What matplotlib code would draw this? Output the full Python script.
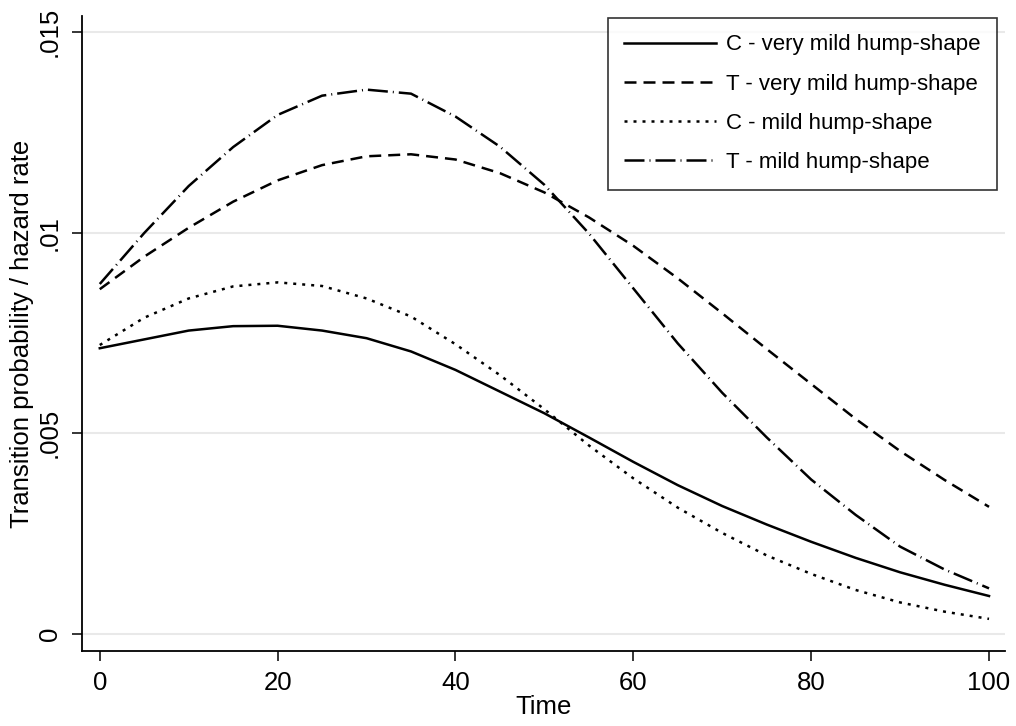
import matplotlib
matplotlib.use("Agg")
import matplotlib.pyplot as plt

plt.rcParams['font.family'] = ['Liberation Sans', 'DejaVu Sans']

##### Data #####
time = [0, 5, 10, 15, 20, 25, 30, 35, 40, 45, 50,
        55, 60, 65, 70, 75, 80, 85, 90, 95, 100]

# C - very mild hump-shape (solid)
c_very_mild = [0.00712, 0.00734, 0.00756, 0.00767, 0.00768, 0.00756, 0.00737,
               0.00704, 0.00658, 0.00604, 0.00550, 0.00490, 0.00429, 0.00371,
               0.00319, 0.00273, 0.00230, 0.00190, 0.00154, 0.00123, 0.00095]
# T - very mild hump-shape (dashed)
t_very_mild = [0.00859, 0.00940, 0.01012, 0.01077, 0.01130, 0.01168, 0.01190,
               0.01195, 0.01182, 0.01148, 0.01100, 0.01038, 0.00967, 0.00886,
               0.00799, 0.00710, 0.00623, 0.00536, 0.00456, 0.00384, 0.00317]
# C - mild hump-shape (dotted)
c_mild = [0.00720, 0.00788, 0.00836, 0.00866, 0.00876, 0.00867, 0.00836,
          0.00791, 0.00722, 0.00645, 0.00560, 0.00470, 0.00388, 0.00315,
          0.00252, 0.00196, 0.00150, 0.00110, 0.00079, 0.00056, 0.00038]
# T - mild hump-shape (dash-dot)
t_mild = [0.00872, 0.00999, 0.01116, 0.01213, 0.01293, 0.01341, 0.01356,
          0.01346, 0.01289, 0.01214, 0.01119, 0.00998, 0.00861, 0.00724,
          0.00601, 0.00490, 0.00385, 0.00297, 0.00218, 0.00161, 0.00114]

labels = ["C - very mild hump-shape", "T - very mild hump-shape",
          "C - mild hump-shape", "T - mild hump-shape"]

yticks = [0, 0.005, 0.01, 0.015]
ytick_labels = ["0", ".005", ".01", ".015"]
xticks = [0, 20, 40, 60, 80, 100]

##### Plot #####
fig = plt.figure(figsize=(10.16, 7.26), dpi=100)
ax = fig.add_axes([0.0807, 0.1033, 0.9085, 0.8750])

lw = 1.8
ax.plot(time, c_very_mild, color='black', lw=lw, linestyle='-', label=labels[0])
ax.plot(time, t_very_mild, color='black', lw=lw, linestyle=(0, (4.8, 2.8)), label=labels[1])
ax.plot(time, c_mild, color='black', lw=lw, linestyle=(0, (1.2, 2.4)), label=labels[2])
ax.plot(time, t_mild, color='black', lw=lw, linestyle=(0, (8, 2, 0.4, 2)), label=labels[3])

ax.set_xlim(-2.0, 101.8)
ax.set_ylim(-0.00042, 0.01540)

ax.set_yticks(yticks)
ax.set_yticklabels(ytick_labels, rotation=90, va='center')
ax.set_xticks(xticks)

ax.grid(axis='y', color='#e9e9e9', lw=1.5)
ax.set_axisbelow(True)

for side in ['top', 'right']:
    ax.spines[side].set_visible(False)
for side in ['left', 'bottom']:
    ax.spines[side].set_linewidth(1.3)

ax.tick_params(axis='both', length=7.5, width=1.1, labelsize=18.5, pad=7)

ax.set_xlabel("Time", fontsize=18.5, labelpad=0)
ax.set_ylabel("Transition probability / hazard rate", fontsize=18.5, labelpad=3)

leg = ax.legend(loc='upper right', bbox_to_anchor=(0.991, 0.997), fontsize=16,
                frameon=True, fancybox=False, edgecolor='black',
                handlelength=4.1, handletextpad=0.45, labelspacing=0.82,
                borderpad=0.75, borderaxespad=0)
leg.get_frame().set_linewidth(1.2)

fig.savefig("out.png", dpi=100)
